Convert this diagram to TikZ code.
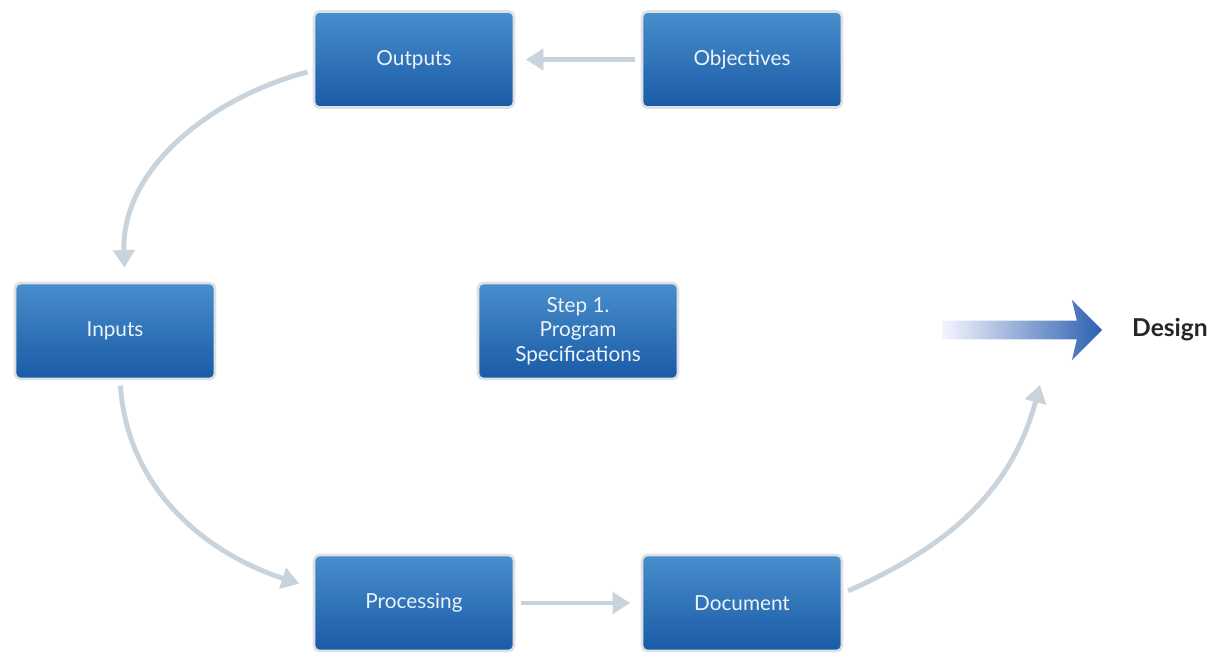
\documentclass[tikz,border=0pt]{standalone}
\usepackage{fontspec}
\setmainfont{Lato}
\usetikzlibrary{arrows.meta,shapes.arrows}
\definecolor{boxtop}{RGB}{72,142,204}
\definecolor{boxbot}{RGB}{26,90,166}
\definecolor{boxrim}{RGB}{222,226,229}
\definecolor{conn}{RGB}{200,211,219}
\definecolor{boxtext}{RGB}{236,243,250}
\definecolor{designblue}{RGB}{44,96,176}
\begin{document}
\begin{tikzpicture}[box/.style={rectangle, rounded corners=3pt, minimum width=4cm, minimum height=1.92cm, top color=boxtop, bottom color=boxbot, draw=boxrim, line width=1.5pt, text=boxtext, font=\fontsize{11.8}{14}\selectfont, align=center}, link/.style={conn, line width=2.8pt, -{Triangle[length=10pt,width=12pt]}}]
\useasboundingbox (0,0) rectangle (24.24,-13.1);
\node[box] (out) at (8.28, -1.19) {Outputs};
\node[box] (obj) at (14.84, -1.19) {Objectives};
\node[box] (in) at (2.30, -6.62) {Inputs};
\node[box] (spec) at (11.56, -6.62) {Step 1.\\Program\\Specifications};
\node[box] (proc) at (8.28, -12.06) {Processing};
\node[box] (doc) at (14.84, -12.06) {Document};
\node[single arrow, minimum height=3.2cm, minimum width=1.2cm, inner sep=0.18cm, single arrow head extend=0.42cm, single arrow head indent=0.1cm, left color=blue!4, right color=designblue] (arr) at (20.35, -6.6) {};
\node[font=\fontsize{14}{16}\selectfont\bfseries, text=black!85] (design) at (23.4, -6.6) {Design};
\coordinate (up) at (20.8, -7.7);
\foreach \a/\b in {obj/out, proc/doc}
  \draw[link, shorten <=3pt, shorten >=6pt] (\a) -- (\b);
\draw[link, shorten <=3pt, shorten >=8pt] ([yshift=-0.22cm]out.west) to[out=195, in=92] ([xshift=0.2cm]in.north);
\draw[link, shorten <=3pt, shorten >=8pt] ([xshift=0.1cm]in.south) to[out=-86, in=162] ([yshift=0.3cm]proc.west);
\draw[link, shorten <=3pt] ([yshift=0.2cm]doc.east) to[out=24, in=-105] (up);
\end{tikzpicture}
\end{document}
